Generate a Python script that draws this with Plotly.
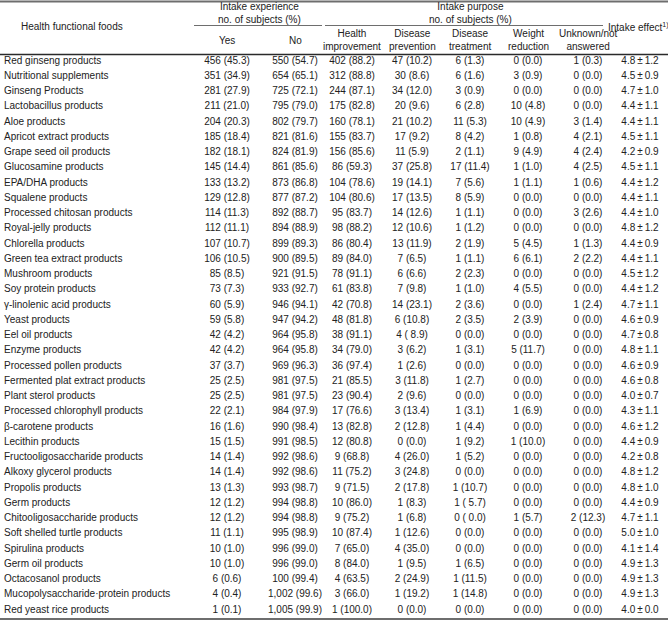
import plotly.graph_objects as go

# ---------------- data ----------------
foods = [
    "Red ginseng products", "Nutritional supplements", "Ginseng Products",
    "Lactobacillus products", "Aloe products", "Apricot extract products",
    "Grape seed oil products", "Glucosamine products", "EPA/DHA products",
    "Squalene products", "Processed chitosan products", "Royal-jelly products",
    "Chlorella products", "Green tea extract products", "Mushroom products",
    "Soy protein products", "γ-linolenic acid products", "Yeast products",
    "Eel oil products", "Enzyme products", "Processed pollen products",
    "Fermented plat extract products", "Plant sterol products",
    "Processed chlorophyll products", "β-carotene products", "Lecithin products",
    "Fructooligosaccharide products", "Alkoxy glycerol products",
    "Propolis products", "Germ products", "Chitooligosaccharide products",
    "Soft shelled turtle products", "Spirulina products", "Germ oil products",
    "Octacosanol products", "Mucopolysaccharide·protein products",
    "Red yeast rice products",
]

intake_yes = [
    "456 (45.3)", "351 (34.9)", "281 (27.9)", "211 (21.0)", "204 (20.3)",
    "185 (18.4)", "182 (18.1)", "145 (14.4)", "133 (13.2)", "129 (12.8)",
    "114 (11.3)", "112 (11.1)", "107 (10.7)", "106 (10.5)", "85 (8.5)",
    "73 (7.3)", "60 (5.9)", "59 (5.8)", "42 (4.2)", "42 (4.2)", "37 (3.7)",
    "25 (2.5)", "25 (2.5)", "22 (2.1)", "16 (1.6)", "15 (1.5)", "14 (1.4)",
    "14 (1.4)", "13 (1.3)", "12 (1.2)", "12 (1.2)", "11 (1.1)", "10 (1.0)",
    "10 (1.0)", "6 (0.6)", "4 (0.4)", "1 (0.1)",
]

intake_no = [
    "550 (54.7)", "654 (65.1)", "725 (72.1)", "795 (79.0)", "802 (79.7)",
    "821 (81.6)", "824 (81.9)", "861 (85.6)", "873 (86.8)", "877 (87.2)",
    "892 (88.7)", "894 (88.9)", "899 (89.3)", "900 (89.5)", "921 (91.5)",
    "933 (92.7)", "946 (94.1)", "947 (94.2)", "964 (95.8)", "964 (95.8)",
    "969 (96.3)", "981 (97.5)", "981 (97.5)", "984 (97.9)", "990 (98.4)",
    "991 (98.5)", "992 (98.6)", "992 (98.6)", "993 (98.7)", "994 (98.8)",
    "994 (98.8)", "995 (98.9)", "996 (99.0)", "996 (99.0)", "100 (99.4)",
    "1,002 (99.6)", "1,005 (99.9)",
]

health_improvement = [
    "402 (88.2)", "312 (88.8)", "244 (87.1)", "175 (82.8)", "160 (78.1)",
    "155 (83.7)", "156 (85.6)", "86 (59.3)", "104 (78.6)", "104 (80.6)",
    "95 (83.7)", "98 (88.2)", "86 (80.4)", "89 (84.0)", "78 (91.1)",
    "61 (83.8)", "42 (70.8)", "48 (81.8)", "38 (91.1)", "34 (79.0)",
    "36 (97.4)", "21 (85.5)", "23 (90.4)", "17 (76.6)", "13 (82.8)",
    "12 (80.8)", "9 (68.8)", "11 (75.2)", "9 (71.5)", "10 (86.0)",
    "9 (75.2)", "10 (87.4)", "7 (65.0)", "8 (84.0)", "4 (63.5)",
    "3 (66.0)", "1 (100.0)",
]

disease_prevention = [
    "47 (10.2)", "30 (8.6)", "34 (12.0)", "20 (9.6)", "21 (10.2)", "17 (9.2)",
    "11 (5.9)", "37 (25.8)", "19 (14.1)", "17 (13.5)", "14 (12.6)",
    "12 (10.6)", "13 (11.9)", "7 (6.5)", "6 (6.6)", "7 (9.8)", "14 (23.1)",
    "6 (10.8)", "4 ( 8.9)", "3 (6.2)", "1 (2.6)", "3 (11.8)", "2 (9.6)",
    "3 (13.4)", "2 (12.8)", "0 (0.0)", "4 (26.0)", "3 (24.8)", "2 (17.8)",
    "1 (8.3)", "1 (6.8)", "1 (12.6)", "4 (35.0)", "1 (9.5)", "2 (24.9)",
    "1 (19.2)", "0 (0.0)",
]

disease_treatment = [
    "6 (1.3)", "6 (1.6)", "3 (0.9)", "6 (2.8)", "11 (5.3)", "8 (4.2)",
    "2 (1.1)", "17 (11.4)", "7 (5.6)", "8 (5.9)", "1 (1.1)", "1 (1.2)",
    "2 (1.9)", "1 (1.1)", "2 (2.3)", "1 (1.0)", "2 (3.6)", "2 (3.5)",
    "0 (0.0)", "1 (3.1)", "0 (0.0)", "1 (2.7)", "0 (0.0)", "1 (3.1)",
    "1 (4.4)", "1 (9.2)", "1 (5.2)", "0 (0.0)", "1 (10.7)", "1 ( 5.7)",
    "0 ( 0.0)", "0 (0.0)", "0 (0.0)", "1 (6.5)", "1 (11.5)", "1 (14.8)",
    "0 (0.0)",
]

weight_reduction = [
    "0 (0.0)", "3 (0.9)", "0 (0.0)", "10 (4.8)", "10 (4.9)", "1 (0.8)",
    "9 (4.9)", "1 (1.0)", "1 (1.1)", "0 (0.0)", "0 (0.0)", "0 (0.0)",
    "5 (4.5)", "6 (6.1)", "0 (0.0)", "4 (5.5)", "0 (0.0)", "2 (3.9)",
    "0 (0.0)", "5 (11.7)", "0 (0.0)", "0 (0.0)", "0 (0.0)", "1 (6.9)",
    "0 (0.0)", "1 (10.0)", "0 (0.0)", "0 (0.0)", "0 (0.0)", "0 (0.0)",
    "1 (5.7)", "0 (0.0)", "0 (0.0)", "0 (0.0)", "0 (0.0)", "0 (0.0)",
    "0 (0.0)",
]

unknown_not_answered = [
    "1 (0.3)", "0 (0.0)", "0 (0.0)", "0 (0.0)", "3 (1.4)", "4 (2.1)",
    "4 (2.4)", "4 (2.5)", "1 (0.6)", "0 (0.0)", "3 (2.6)", "0 (0.0)",
    "1 (1.3)", "2 (2.2)", "0 (0.0)", "0 (0.0)", "1 (2.4)", "0 (0.0)",
    "0 (0.0)", "0 (0.0)", "0 (0.0)", "0 (0.0)", "0 (0.0)", "0 (0.0)",
    "0 (0.0)", "0 (0.0)", "0 (0.0)", "0 (0.0)", "0 (0.0)", "0 (0.0)",
    "2 (12.3)", "0 (0.0)", "0 (0.0)", "0 (0.0)", "0 (0.0)", "0 (0.0)",
    "0 (0.0)",
]

effect_mean = [4.8, 4.5, 4.7, 4.4, 4.4, 4.5, 4.2, 4.5, 4.4, 4.4, 4.4, 4.8, 4.4,
               4.4, 4.5, 4.4, 4.7, 4.6, 4.7, 4.8, 4.6, 4.6, 4.0, 4.3, 4.6, 4.4,
               4.2, 4.8, 4.8, 4.4, 4.7, 5.0, 4.1, 4.9, 4.9, 4.9, 4.0]
effect_sd = [1.2, 0.9, 1.0, 1.1, 1.1, 1.1, 0.9, 1.1, 1.2, 1.1, 1.0, 1.2, 0.9,
             1.1, 1.2, 1.2, 1.1, 0.9, 0.8, 1.1, 0.9, 0.8, 0.7, 1.1, 1.2, 0.9,
             0.8, 1.2, 1.0, 0.9, 1.1, 1.0, 1.4, 1.3, 1.3, 1.3, 0.0]

header_group = ["Intake experience<br>no. of subjects (%)",
                "Intake purpose<br>no. of subjects (%)"]
header_sub = ["Yes", "No", "Health<br>improvement", "Disease<br>prevention",
              "Disease<br>treatment", "Weight<br>reduction",
              "Unknown/not<br>answered"]
header_first = "Health functional foods"
header_last = "Intake effect<sup>1)</sup>"

# ---------------- layout constants (pixels) ----------------
W, H = 668, 624
FONT = "Liberation Sans, Arial, Helvetica, sans-serif"
TXT = "#222222"
LINE = "#6e6e6e"
ROW0, ROWSTEP = 61.0, 15.25
NAME_X = 4
COL_X = [227, 295, 352, 412, 470, 528, 588, 640]

effect_txt = [f"{m:.1f}\u2009±\u2009{s:.1f}" for m, s in zip(effect_mean, effect_sd)]
value_cols = [intake_yes, intake_no, health_improvement, disease_prevention,
              disease_treatment, weight_reduction, unknown_not_answered, effect_txt]

fig = go.Figure()

fig.add_trace(go.Scatter(
    x=[NAME_X] * len(foods), y=foods, mode="text", text=foods,
    textposition="middle right",
    textfont=dict(family=FONT, size=10, color=TXT),
    hoverinfo="skip", showlegend=False))

for cx, col in zip(COL_X, value_cols):
    fig.add_trace(go.Scatter(
        x=[cx] * len(col), y=foods, mode="text", text=col,
        textposition="middle center",
        textfont=dict(family=FONT, size=10, color=TXT),
        hoverinfo="skip", showlegend=False))

y_top = -ROW0 / ROWSTEP
y_bot = (H - ROW0) / ROWSTEP


def px(x):
    return x / W


def py(y):
    return 1 - y / H


hf = dict(family=FONT, size=10, color=TXT)


def head(x, y, text):
    return dict(x=px(x), y=py(y), text=text, showarrow=False, xref="paper",
                yref="paper", xanchor="center", yanchor="middle", align="center",
                font=hf)


ann = [head(72, 27, header_first), head(638, 27, header_last),
       head(259, 13, header_group[0]), head(470, 13, header_group[1])]
for cx, t in zip(COL_X[:7], header_sub):
    ann.append(head(cx, 40, t))

shapes = [
    dict(type="line", xref="paper", yref="paper", x0=0, x1=1, y0=py(1.5), y1=py(1.5),
         line=dict(color=LINE, width=2)),
    dict(type="line", xref="paper", yref="paper", x0=px(194), x1=px(322),
         y0=py(25.5), y1=py(25.5), line=dict(color=LINE, width=1)),
    dict(type="line", xref="paper", yref="paper", x0=px(325), x1=px(603),
         y0=py(25.5), y1=py(25.5), line=dict(color=LINE, width=1)),
    dict(type="line", xref="paper", yref="paper", x0=0, x1=1, y0=py(54.5), y1=py(54.5),
         line=dict(color="#2a2a2a", width=1.4)),
    dict(type="line", xref="paper", yref="paper", x0=0, x1=1, y0=py(619), y1=py(619),
         line=dict(color=LINE, width=2)),
]

fig.update_layout(
    width=W, height=H,
    margin=dict(l=0, r=0, t=0, b=0),
    paper_bgcolor="white", plot_bgcolor="white",
    xaxis=dict(range=[0, W], visible=False, fixedrange=True),
    yaxis=dict(type="category", categoryorder="array", categoryarray=foods,
               range=[y_bot, y_top], visible=False, fixedrange=True),
    annotations=ann, shapes=shapes,
    showlegend=False,
)

fig.write_html("out.html", config={"displayModeBar": False},
               post_script="document.body.style.margin='0';"
                           "document.body.style.overflow='hidden';")
